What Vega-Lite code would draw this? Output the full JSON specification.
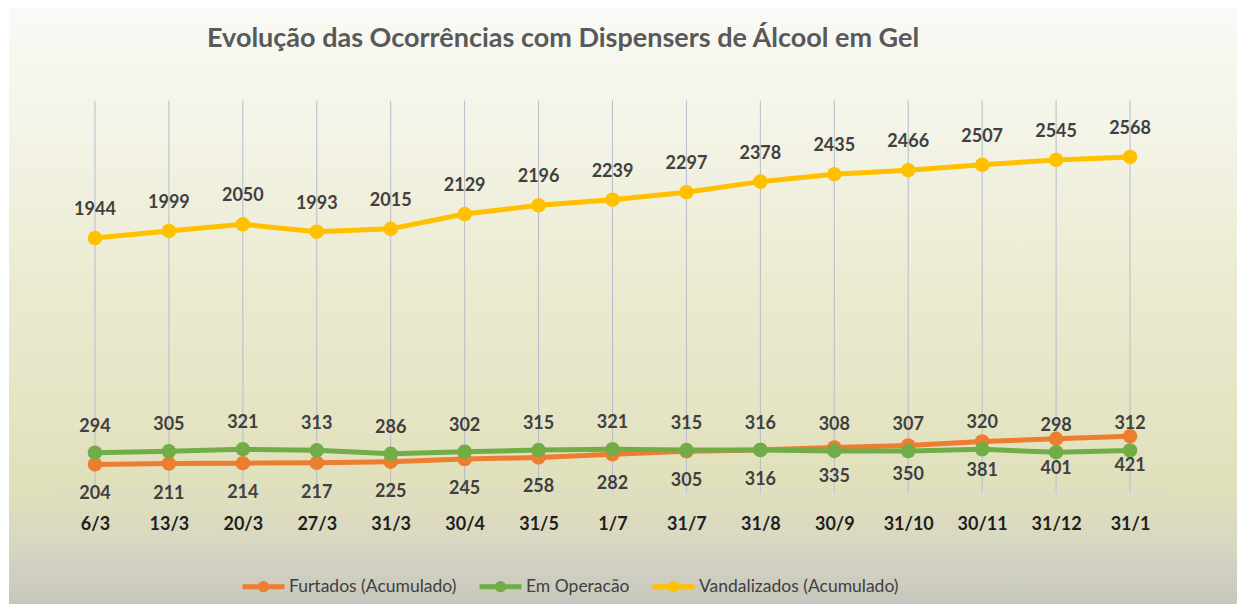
{
  "$schema": "https://vega.github.io/schema/vega-lite/v6.json",
  "width": 1228,
  "height": 596,
  "autosize": "none",
  "padding": {"left": 9, "top": 8, "right": 0, "bottom": 0},
  "background": "#ffffff",
  "view": {
    "stroke": null,
    "fill": {
      "gradient": "linear", "x1": 0, "y1": 0, "x2": 0, "y2": 1,
      "stops": [
        {"offset": 0, "color": "#fafaf6"},
        {"offset": 0.15, "color": "#f5f5ec"},
        {"offset": 0.45, "color": "#ecebd2"},
        {"offset": 0.8, "color": "#e1e0bc"},
        {"offset": 0.9, "color": "#d8d7c2"},
        {"offset": 1, "color": "#c6c6be"}
      ]
    }
  },
  "title": {
    "text": "Evolução das Ocorrências com Dispensers de Álcool em Gel",
    "anchor": "start",
    "frame": "group",
    "dx": 198,
    "dy": 49,
    "font": "Lato",
    "fontSize": 27,
    "fontWeight": "bold",
    "color": "#595959"
  },
  "data": {
    "values": [
      {"data": "6/3", "serie": "Furtados (Acumulado)", "valor": 204},
      {"data": "13/3", "serie": "Furtados (Acumulado)", "valor": 211},
      {"data": "20/3", "serie": "Furtados (Acumulado)", "valor": 214},
      {"data": "27/3", "serie": "Furtados (Acumulado)", "valor": 217},
      {"data": "31/3", "serie": "Furtados (Acumulado)", "valor": 225},
      {"data": "30/4", "serie": "Furtados (Acumulado)", "valor": 245},
      {"data": "31/5", "serie": "Furtados (Acumulado)", "valor": 258},
      {"data": "1/7", "serie": "Furtados (Acumulado)", "valor": 282},
      {"data": "31/7", "serie": "Furtados (Acumulado)", "valor": 305},
      {"data": "31/8", "serie": "Furtados (Acumulado)", "valor": 316},
      {"data": "30/9", "serie": "Furtados (Acumulado)", "valor": 335},
      {"data": "31/10", "serie": "Furtados (Acumulado)", "valor": 350},
      {"data": "30/11", "serie": "Furtados (Acumulado)", "valor": 381},
      {"data": "31/12", "serie": "Furtados (Acumulado)", "valor": 401},
      {"data": "31/1", "serie": "Furtados (Acumulado)", "valor": 421},
      {"data": "6/3", "serie": "Em Operacão", "valor": 294},
      {"data": "13/3", "serie": "Em Operacão", "valor": 305},
      {"data": "20/3", "serie": "Em Operacão", "valor": 321},
      {"data": "27/3", "serie": "Em Operacão", "valor": 313},
      {"data": "31/3", "serie": "Em Operacão", "valor": 286},
      {"data": "30/4", "serie": "Em Operacão", "valor": 302},
      {"data": "31/5", "serie": "Em Operacão", "valor": 315},
      {"data": "1/7", "serie": "Em Operacão", "valor": 321},
      {"data": "31/7", "serie": "Em Operacão", "valor": 315},
      {"data": "31/8", "serie": "Em Operacão", "valor": 316},
      {"data": "30/9", "serie": "Em Operacão", "valor": 308},
      {"data": "31/10", "serie": "Em Operacão", "valor": 307},
      {"data": "30/11", "serie": "Em Operacão", "valor": 320},
      {"data": "31/12", "serie": "Em Operacão", "valor": 298},
      {"data": "31/1", "serie": "Em Operacão", "valor": 312},
      {"data": "6/3", "serie": "Vandalizados (Acumulado)", "valor": 1944},
      {"data": "13/3", "serie": "Vandalizados (Acumulado)", "valor": 1999},
      {"data": "20/3", "serie": "Vandalizados (Acumulado)", "valor": 2050},
      {"data": "27/3", "serie": "Vandalizados (Acumulado)", "valor": 1993},
      {"data": "31/3", "serie": "Vandalizados (Acumulado)", "valor": 2015},
      {"data": "30/4", "serie": "Vandalizados (Acumulado)", "valor": 2129},
      {"data": "31/5", "serie": "Vandalizados (Acumulado)", "valor": 2196},
      {"data": "1/7", "serie": "Vandalizados (Acumulado)", "valor": 2239},
      {"data": "31/7", "serie": "Vandalizados (Acumulado)", "valor": 2297},
      {"data": "31/8", "serie": "Vandalizados (Acumulado)", "valor": 2378},
      {"data": "30/9", "serie": "Vandalizados (Acumulado)", "valor": 2435},
      {"data": "31/10", "serie": "Vandalizados (Acumulado)", "valor": 2466},
      {"data": "30/11", "serie": "Vandalizados (Acumulado)", "valor": 2507},
      {"data": "31/12", "serie": "Vandalizados (Acumulado)", "valor": 2545},
      {"data": "31/1", "serie": "Vandalizados (Acumulado)", "valor": 2568}
    ]
  },
  "encoding": {
    "x": {
      "field": "data",
      "type": "ordinal",
      "scale": {
        "type": "point",
        "domain": ["6/3", "13/3", "20/3", "27/3", "31/3", "30/4", "31/5", "1/7", "31/7", "31/8", "30/9", "31/10", "30/11", "31/12", "31/1"],
        "range": [49, 1158],
        "padding": 0.5
      },
      "axis": {
        "orient": "bottom",
        "offset": -113,
        "title": null,
        "labelAngle": 0,
        "grid": false,
        "domainColor": "#d9d9d9",
        "domainWidth": 1.5,
        "tickColor": "#d0d0d0",
        "tickSize": 5,
        "labelPadding": 19,
        "labelFont": "Lato",
        "labelFontSize": 18,
        "labelFontWeight": "bold",
        "labelColor": "#1e1e1e"
      }
    }
  },
  "layer": [
    {
      "transform": [{"filter": "datum.serie == 'Vandalizados (Acumulado)'"}],
      "mark": {"type": "rule", "color": "#b8bcc8", "strokeWidth": 1},
      "encoding": {
        "y": {"datum": 0, "type": "quantitative", "scale": {"domain": [-868.6, 3712.5], "nice": false, "zero": false}, "axis": null},
        "y2": {"datum": 3000}
      }
    },
    {
      "mark": {"type": "line", "strokeWidth": 5, "point": {"filled": true, "size": 210}},
      "encoding": {
        "y": {"field": "valor", "type": "quantitative", "axis": null},
        "color": {
          "field": "serie",
          "type": "nominal",
          "sort": null,
          "scale": {
            "domain": ["Furtados (Acumulado)", "Em Operacão", "Vandalizados (Acumulado)"],
            "range": ["#ed7d31", "#70ad47", "#ffc000"]
          },
          "legend": {
            "orient": "none",
            "legendX": 231,
            "legendY": 555,
            "direction": "horizontal",
            "title": null,
            "symbolType": "M-1,0L1,0M-0.15,0A0.15,0.15,0,1,1,0.15,0A0.15,0.15,0,1,1,-0.15,0",
            "symbolSize": 1764,
            "symbolStrokeWidth": 5,
            "labelFont": "Lato",
            "labelFontSize": 17.5,
            "labelLimit": 0,
            "labelColor": "#404040",
            "labelOffset": 2,
            "columnPadding": 12
          }
        }
      }
    },
    {
      "transform": [{"filter": "datum.serie == 'Vandalizados (Acumulado)'"}],
      "mark": {"type": "text", "dy": -28, "font": "Lato", "fontSize": 18, "fontWeight": "bold", "color": "#404040"},
      "encoding": {
        "y": {"field": "valor", "type": "quantitative"},
        "text": {"field": "valor", "type": "quantitative"}
      }
    },
    {
      "transform": [{"filter": "datum.serie == 'Em Operacão'"}],
      "mark": {"type": "text", "dy": -26, "font": "Lato", "fontSize": 18, "fontWeight": "bold", "color": "#404040"},
      "encoding": {
        "y": {"field": "valor", "type": "quantitative"},
        "text": {"field": "valor", "type": "quantitative"}
      }
    },
    {
      "transform": [{"filter": "datum.serie == 'Furtados (Acumulado)'"}],
      "mark": {"type": "text", "dy": 30, "font": "Lato", "fontSize": 18, "fontWeight": "bold", "color": "#404040"},
      "encoding": {
        "y": {"field": "valor", "type": "quantitative"},
        "text": {"field": "valor", "type": "quantitative"}
      }
    }
  ]
}
